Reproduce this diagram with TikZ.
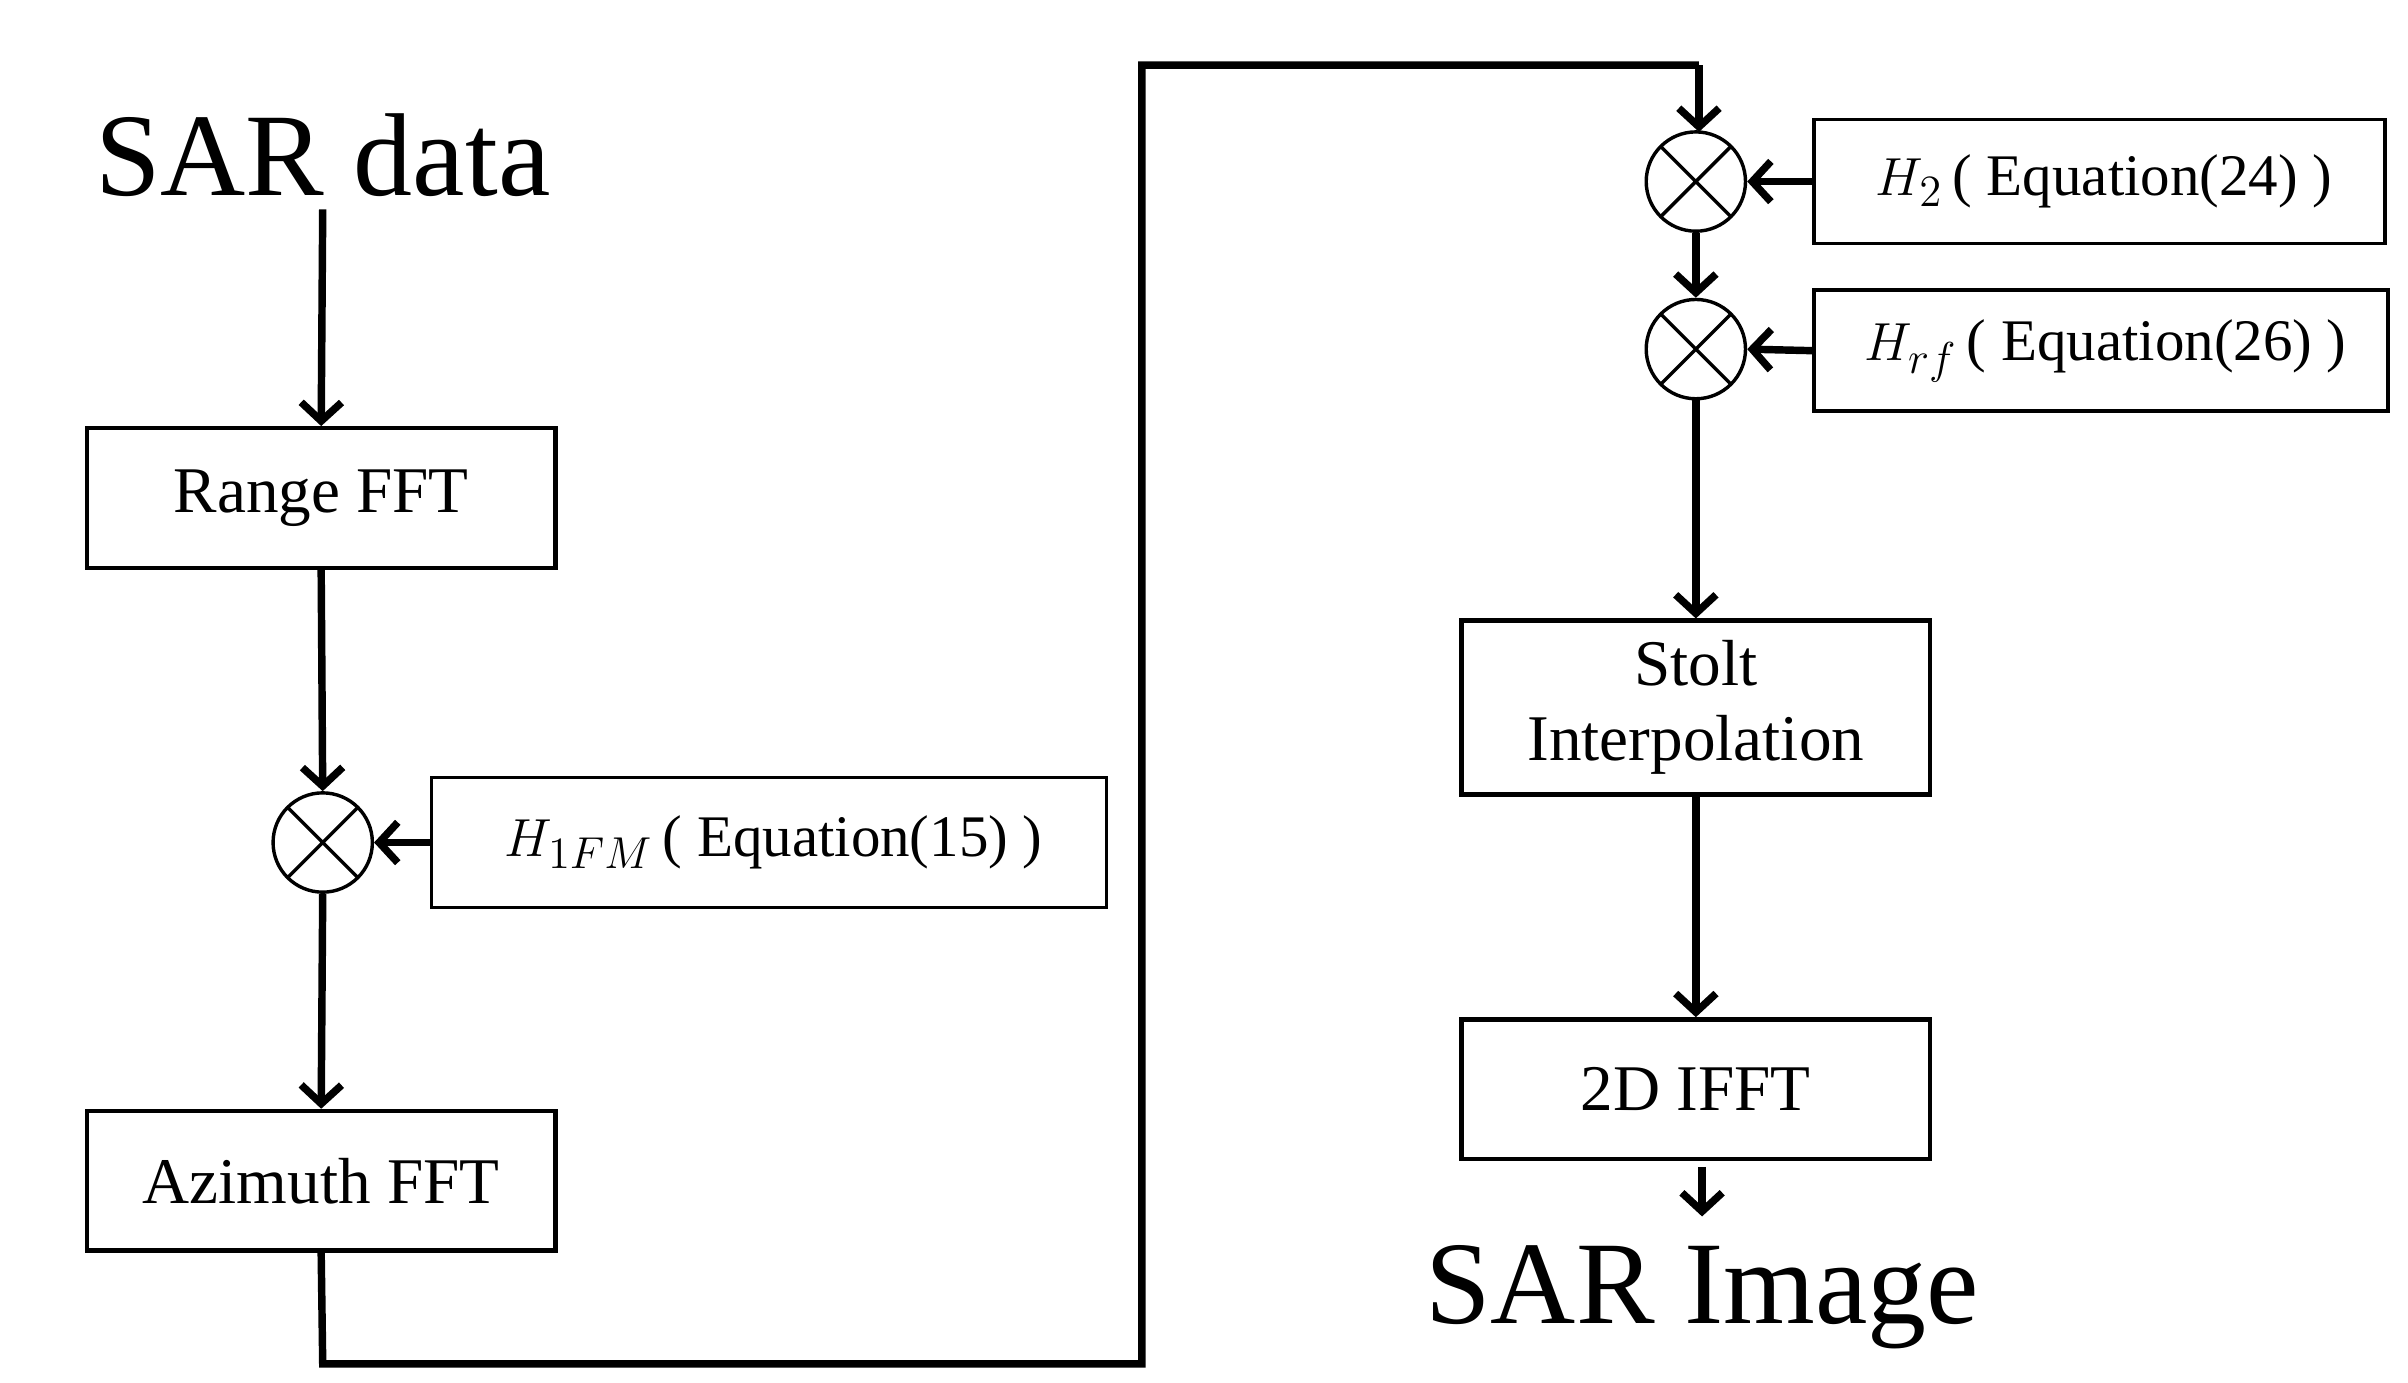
\documentclass[tikz,border=0pt]{standalone}
\usepackage{fontspec}
\setmainfont{Liberation Serif}
\usetikzlibrary{arrows.meta}
\begin{document}
\begin{tikzpicture}[x=0.5pt,y=-0.5pt,
  box/.style={draw,line width=1.4pt,minimum width=151pt,inner sep=0pt,font=\fontsize{21}{24}\selectfont,align=center},
  eq/.style={draw,line width=1.1pt,inner sep=0pt,font=\fontsize{19}{22}\selectfont,anchor=west},
  mul/.style={draw,circle,line width=1.1pt,minimum size=32pt,inner sep=0pt,path picture={\draw[line width=1.1pt] (path picture bounding box.south west)--(path picture bounding box.north east) (path picture bounding box.north west)--(path picture bounding box.south east);}},
  arr/.style={line width=2.4pt,-{Straight Barb[length=6pt,width=13pt,line width=2.4pt]}},
  big/.style={font=\fontsize{38}{42}\selectfont}]
\useasboundingbox (0,0) rectangle (1552,891);
\node[big] (sar) at (208,100) {SAR data};
\node[box,minimum height=45pt] (rfft) at (207,321) {Range FFT};
\node[mul] (m1) at (208,543) {};
\node[eq,minimum width=217.5pt,minimum height=42pt] (h1) at (277,543) {\hspace{3pt}$\displaystyle H_{1FM}$\,( Equation(15) )\hfill};
\node[box,minimum height=45pt] (afft) at (207,761) {Azimuth FFT};
\coordinate (c1) at (208,879);
\coordinate (c2) at (736,879);
\coordinate (c3) at (736,42);
\coordinate (c4) at (1095,42);
\node[mul] (m2) at (1093,117) {};
\node[eq,minimum width=184pt,minimum height=40pt] (h2) at (1168,117) {\hspace{3pt}$\displaystyle H_{2}$\,( Equation(24) )\hfill};
\node[mul] (m3) at (1093,225) {};
\node[eq,minimum width=185pt,minimum height=39pt] (h3) at (1168,226) {\hspace{3pt}$\displaystyle H_{rf}$\,( Equation(26) )\hfill};
\node[box,minimum height=56pt] (stolt) at (1093,456) {Stolt\\Interpolation};
\node[box,minimum height=45pt] (ifft) at (1093,702) {2D IFFT};
\node[big] (img) at (1097,836) {SAR Image};
\draw[arr] (208,135) -- (rfft.north);
\draw[arr] (rfft.south) -- (m1.north);
\draw[arr] (h1.west) -- (m1.east);
\draw[arr] (m1.south) -- (afft.north);
\draw[line width=2.4pt] (afft.south) -- (c1) -- (c2) -- (c3) -- (c4);
\draw[arr] (c4) -- (1095,85);
\draw[arr] (h2.west) -- (m2.east);
\draw[arr] (m2.south) -- (m3.north);
\draw[arr] (h3.west) -- (m3.east);
\draw[arr] (m3.south) -- (stolt.north);
\draw[arr] (stolt.south) -- (ifft.north);
\draw[arr] (1097,752) -- (1097,784);
\end{tikzpicture}
\end{document}
